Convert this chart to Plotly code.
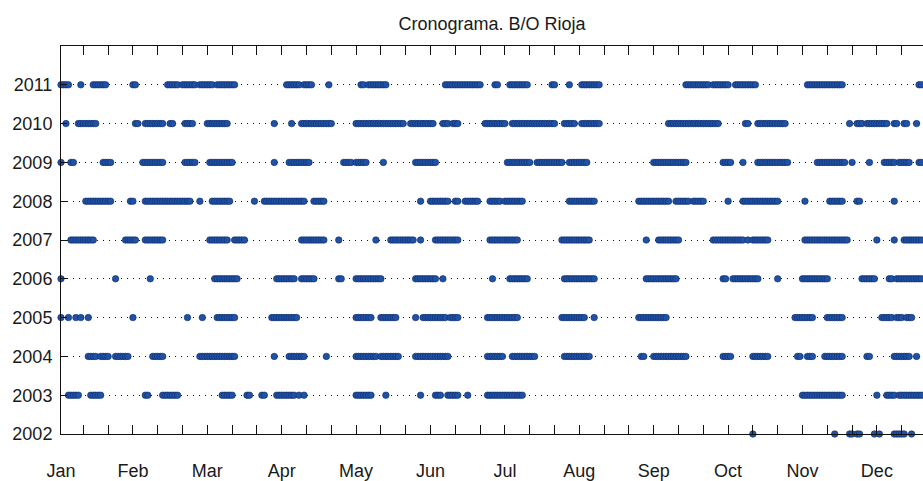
import plotly.graph_objects as go

title = "Cronograma. B/O Rioja"
years = list(range(2002, 2012))
year_labels = [str(y) for y in years]
month_labels = ["Jan", "Feb", "Mar", "Apr", "May", "Jun",
                "Jul", "Aug", "Sep", "Oct", "Nov", "Dec"]
month_pos = [1, 30, 60, 90, 120, 150, 180, 210, 240, 270, 300, 330]
minor_ticks = list(range(10, 350, 10))

# observation days (day of year), written as runs of consecutive days (start, end)
seg_2011 = [(1, 4), (9, 9), (14, 19), (30, 31), (44, 48), (50, 55), (57, 62), (64, 71),
            (92, 97), (99, 102), (109, 109), (122, 123), (125, 132), (156, 170),
            (176, 177), (182, 189), (199, 200), (206, 206), (211, 218), (253, 262),
            (264, 270), (273, 281), (302, 316), (347, 348)]
seg_2010 = [(3, 3), (8, 15), (31, 32), (35, 42), (45, 46), (51, 54), (60, 68), (87, 87),
            (94, 94), (98, 110), (120, 139), (142, 151), (155, 157), (159, 161),
            (172, 180), (183, 200), (204, 208), (211, 218), (246, 266), (277, 278),
            (282, 293), (319, 319), (322, 324), (326, 334), (337, 338), (341, 342),
            (346, 346)]
seg_2009 = [(1, 1), (5, 6), (18, 21), (34, 42), (51, 55), (61, 70), (87, 87), (93, 101),
            (115, 118), (120, 124), (131, 131), (144, 152), (181, 190), (193, 203),
            (206, 213), (240, 253), (268, 271), (276, 276), (282, 294), (306, 317),
            (320, 320), (327, 327), (333, 337), (339, 343), (347, 348)]
seg_2008 = [(11, 17), (18, 21), (29, 30), (35, 39), (40, 53), (57, 57), (62, 69),
            (79, 79), (83, 99), (103, 107), (146, 146), (150, 157), (160, 161),
            (164, 169), (174, 178), (180, 187), (206, 216), (234, 246), (249, 254),
            (256, 260), (270, 270), (276, 290), (301, 301), (311, 316), (322, 323),
            (337, 337)]
seg_2007 = [(5, 14), (27, 31), (35, 42), (61, 68), (71, 75), (98, 107), (113, 113),
            (128, 128), (134, 143), (146, 146), (152, 161), (174, 185), (203, 214),
            (237, 237), (242, 250), (264, 276), (278, 278), (280, 286), (301, 318),
            (330, 330), (337, 337), (341, 348)]
seg_2006 = [(1, 1), (23, 23), (37, 37), (63, 72), (88, 95), (98, 103), (113, 114),
            (120, 130), (144, 152), (155, 155), (175, 175), (182, 189), (204, 216),
            (237, 249), (268, 269), (272, 282), (290, 290), (300, 310), (324, 329),
            (335, 336), (338, 348)]
seg_2005 = [(1, 1), (4, 4), (7, 7), (9, 9), (12, 12), (30, 30), (52, 52), (58, 58),
            (64, 71), (86, 96), (120, 126), (130, 136), (144, 144), (147, 156),
            (158, 161), (173, 185), (203, 212), (216, 216), (234, 245), (297, 304),
            (310, 316), (332, 336), (338, 340), (342, 344)]
seg_2004 = [(12, 15), (17, 20), (23, 28), (38, 42), (57, 71), (87, 87), (93, 99),
            (108, 108), (120, 128), (130, 137), (144, 157), (173, 179), (183, 192),
            (204, 214), (235, 236), (240, 253), (268, 271), (280, 286), (298, 299),
            (302, 304), (309, 316), (326, 327), (337, 343), (346, 346)]
seg_2003 = [(4, 8), (13, 17), (35, 36), (42, 48), (66, 70), (76, 77), (82, 83),
            (88, 95), (97, 97), (99, 99), (120, 126), (132, 132), (146, 146),
            (152, 154), (157, 161), (165, 165), (173, 187), (300, 316), (330, 330),
            (334, 337), (339, 348)]
seg_2002 = [(280, 280), (313, 313), (319, 320), (322, 323), (329, 329), (331, 331),
            (337, 341), (344, 344)]

segments = {2011: seg_2011, 2010: seg_2010, 2009: seg_2009, 2008: seg_2008,
            2007: seg_2007, 2006: seg_2006, 2005: seg_2005, 2004: seg_2004,
            2003: seg_2003, 2002: seg_2002}

xs, ys = [], []
for year, segs in segments.items():
    for a, b in segs:
        for d in range(a, b + 1):
            xs.append(d)
            ys.append(year)

# one tick set: ticks every 10 days, month names at their label positions
x_tickvals = sorted(set(month_pos) | set(minor_ticks))
x_ticktext = [month_labels[month_pos.index(v)] if v in month_pos else ""
              for v in x_tickvals]

X_RANGE = [1, 348.6]
AX = "#111111"

fig = go.Figure()
fig.add_trace(go.Scatter(
    x=xs, y=ys, mode="markers", cliponaxis=False, showlegend=False,
    marker=dict(symbol="circle", size=6.5, color="#1f52a6",
                line=dict(width=0.6, color="#0e2a66")),
))

FONT = "Liberation Sans, Arial, sans-serif"
fig.update_layout(
    width=923, height=481,
    margin=dict(l=61, r=0, t=46, b=44),
    paper_bgcolor="white", plot_bgcolor="white",
    font=dict(family=FONT, size=18, color="#1a1a1a"),
    title=dict(text=title, x=(61 + 923) / 2 / 923, xanchor="center",
               y=1 - 24 / 481, yanchor="middle",
               font=dict(family=FONT, size=18, color="#1a1a1a")),
    showlegend=False,
    xaxis=dict(
        range=X_RANGE, tickmode="array", tickvals=x_tickvals, ticktext=x_ticktext,
        ticks="inside", ticklen=9, tickcolor=AX, tickwidth=1,
        ticklabelstandoff=20,
        showline=True, linecolor=AX, linewidth=1,
        mirror="allticks", showgrid=False, zeroline=False,
    ),
    yaxis=dict(
        range=[2002, 2012], tickmode="array", tickvals=years, ticktext=year_labels,
        ticks="inside", ticklen=6, tickcolor=AX, ticklabelstandoff=4,
        showline=True, linecolor=AX, linewidth=1,
        showgrid=True, gridcolor=AX, gridwidth=1, griddash="1px,5px",
        zeroline=False,
    ),
)

fig.write_html("out.html")
